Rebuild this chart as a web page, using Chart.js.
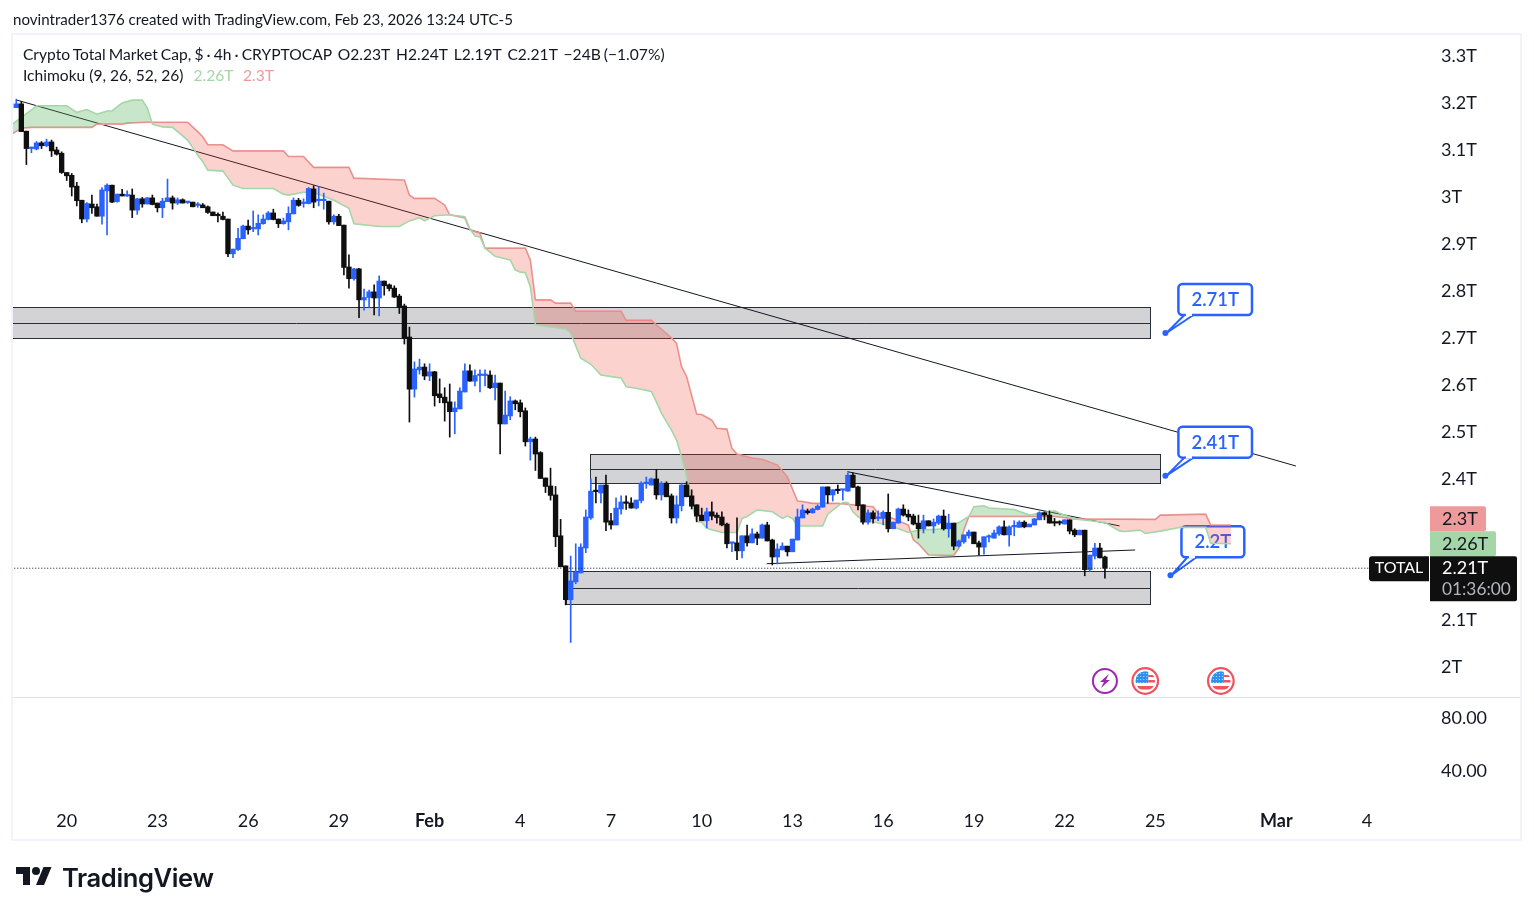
<!DOCTYPE html>
<html>
<head>
<meta charset="utf-8">
<title>Crypto Total Market Cap</title>
<script src="https://cdn.jsdelivr.net/npm/chart.js@4/dist/chart.umd.min.js"></script>
<style>
  html, body { margin: 0; padding: 0; background: #fff; width: 1534px; height: 916px; overflow: hidden; }
  body { font-family: Lato, sans-serif; color: #131722; position: relative; }
  canvas { position: absolute; left: 0; top: 0; }
  #frame { position: absolute; left: 11px; top: 33px; width: 1507px; height: 804px; border: 2px solid #f0f3fa; }
  .txt { position: absolute; white-space: pre; }
  #credit { left: 13px; top: 10px; font-size: 15.1px; }
  #legend1 { left: 23px; top: 45px; font-size: 15.6px; word-spacing: -0.9px; }
  #legend2 { left: 23px; top: 66px; font-size: 15.6px; }
  #legend2 span { margin-left: 2px; }
  #logoText { left: 62px; top: 862px; font-family: Inter, sans-serif; font-weight: 600; font-size: 25.6px; letter-spacing: -0.4px; }
  #logo { position: absolute; left: 15px; top: 863px; width: 38px; height: 28px; }
</style>
</head>
<body>
<canvas id="chart" width="1534" height="916"></canvas>
<div id="frame"></div>
<div class="txt" id="credit">novintrader1376 created with TradingView.com, Feb 23, 2026 13:24 UTC-5</div>
<div class="txt" id="legend1">Crypto Total Market Cap, $ · 4h · CRYPTOCAP  O2.23T  H2.24T  L2.19T  C2.21T  −24B (−1.07%)</div>
<div class="txt" id="legend2">Ichimoku (9, 26, 52, 26)  <span style="color:#a5d6a7">2.26T</span>  <span style="color:#ef9a9a">2.3T</span></div>
<svg id="logo" viewBox="0 0 36 28"><path fill="#131722" d="M14 22H7V11H0V4h14v18zM28 22h-8l7.5-18h8L28 22z"/><circle fill="#131722" cx="20" cy="8" r="4"/></svg>
<div class="txt" id="logoText">TradingView</div>

<script>
// 4h candles, one value per bar, in trillions of dollars
const candleOpens = [
  3.188,3.196,3.138,3.101,3.100,3.113,3.107,3.115,3.098,3.091,
  3.050,3.044,3.021,2.991,2.951,2.983,2.977,2.957,3.011,3.023,
  2.988,3.004,3.000,3.002,2.970,2.994,2.983,2.996,2.985,2.975,
  2.988,2.996,2.985,2.992,2.986,2.987,2.980,2.981,2.977,2.966,
  2.960,2.957,2.951,2.877,2.886,2.909,2.936,2.930,2.930,2.941,
  2.950,2.964,2.951,2.941,2.945,2.962,2.991,2.984,2.984,3.015,
  2.990,2.990,2.989,2.945,2.957,2.938,2.849,2.824,2.845,2.779,
  2.784,2.796,2.783,2.819,2.811,2.804,2.787,2.766,2.700,2.589,
  2.630,2.636,2.617,2.626,2.579,2.572,2.562,2.541,2.547,2.583,
  2.628,2.606,2.618,2.618,2.619,2.592,2.602,2.515,2.532,2.564,
  2.560,2.543,2.477,2.483,2.454,2.400,2.383,2.364,2.277,2.213,
  2.141,2.179,2.198,2.251,2.315,2.372,2.368,2.385,2.309,2.300,
  2.334,2.349,2.347,2.336,2.352,2.388,2.385,2.398,2.364,2.389,
  2.362,2.315,2.341,2.385,2.362,2.343,2.321,2.309,2.328,2.321,
  2.317,2.302,2.261,2.262,2.245,2.277,2.262,2.281,2.272,2.300,
  2.268,2.232,2.247,2.255,2.243,2.268,2.315,2.330,2.326,2.333,
  2.338,2.381,2.364,2.375,2.374,2.372,2.406,2.381,2.343,2.306,
  2.326,2.314,2.314,2.327,2.292,2.304,2.334,2.323,2.319,2.304,
  2.292,2.309,2.298,2.304,2.319,2.292,2.304,2.255,2.264,2.277,
  2.285,2.262,2.253,2.274,2.272,2.281,2.296,2.279,2.296,2.295,
  2.306,2.296,2.300,2.311,2.326,2.321,2.306,2.305,2.302,2.311,
  2.289,2.279,2.289,2.205,2.234,2.251,2.232
];
const candleCloses = [
  3.196,3.137,3.101,3.104,3.113,3.107,3.115,3.096,3.089,3.050,
  3.043,3.019,2.990,2.951,2.984,2.975,2.957,3.013,3.023,2.987,
  3.004,3.000,3.001,2.970,2.994,2.983,2.996,2.982,2.975,2.989,
  2.996,2.985,2.992,2.985,2.987,2.977,2.982,2.975,2.965,2.958,
  2.958,2.950,2.877,2.887,2.910,2.936,2.928,2.933,2.942,2.951,
  2.964,2.950,2.941,2.947,2.963,2.991,2.980,2.985,3.016,2.987,
  2.991,2.991,2.945,2.957,2.937,2.848,2.824,2.845,2.779,2.784,
  2.796,2.783,2.819,2.809,2.803,2.785,2.763,2.697,2.589,2.632,
  2.636,2.617,2.626,2.575,2.571,2.560,2.541,2.549,2.585,2.628,
  2.606,2.618,2.619,2.619,2.592,2.602,2.515,2.534,2.564,2.558,
  2.541,2.477,2.483,2.451,2.399,2.382,2.363,2.275,2.211,2.141,
  2.181,2.200,2.253,2.317,2.372,2.371,2.385,2.306,2.300,2.336,
  2.349,2.346,2.336,2.353,2.389,2.389,2.398,2.364,2.389,2.360,
  2.315,2.343,2.385,2.360,2.340,2.319,2.309,2.328,2.319,2.316,
  2.300,2.260,2.263,2.245,2.277,2.262,2.281,2.272,2.300,2.266,
  2.232,2.249,2.255,2.243,2.270,2.317,2.332,2.326,2.334,2.340,
  2.381,2.364,2.375,2.373,2.376,2.406,2.380,2.341,2.306,2.326,
  2.313,2.316,2.327,2.292,2.306,2.334,2.321,2.317,2.302,2.292,
  2.309,2.298,2.306,2.319,2.292,2.304,2.255,2.266,2.279,2.285,
  2.260,2.253,2.275,2.276,2.283,2.296,2.279,2.296,2.298,2.306,
  2.296,2.302,2.313,2.326,2.321,2.304,2.304,2.304,2.311,2.287,
  2.279,2.289,2.205,2.236,2.251,2.230,2.208
];
const candleHighs = [
  3.206,3.201,3.138,3.104,3.116,3.116,3.121,3.119,3.104,3.094,
  3.050,3.048,3.029,2.991,2.986,3.002,2.983,3.018,3.026,3.023,
  3.004,3.014,3.011,3.015,2.995,2.997,2.997,3.002,2.985,2.995,
  3.036,3.000,2.996,2.994,2.989,2.987,2.986,2.984,2.979,2.966,
  2.964,2.966,2.951,2.887,2.931,2.938,2.949,2.968,2.960,2.960,
  2.967,2.972,2.951,2.953,2.977,2.996,2.995,2.994,3.018,3.022,
  3.020,3.006,2.989,2.960,2.961,2.938,2.875,2.846,2.846,2.802,
  2.800,2.811,2.830,2.819,2.813,2.809,2.791,2.770,2.721,2.647,
  2.653,2.643,2.643,2.627,2.611,2.592,2.600,2.562,2.592,2.643,
  2.641,2.630,2.630,2.630,2.628,2.619,2.602,2.585,2.573,2.566,
  2.566,2.549,2.487,2.487,2.456,2.400,2.421,2.382,2.312,2.213,
  2.234,2.260,2.260,2.332,2.398,2.402,2.385,2.406,2.325,2.358,
  2.362,2.362,2.358,2.353,2.392,2.402,2.400,2.418,2.392,2.392,
  2.366,2.362,2.389,2.392,2.375,2.343,2.336,2.336,2.349,2.326,
  2.328,2.304,2.263,2.315,2.277,2.300,2.292,2.285,2.302,2.306,
  2.270,2.260,2.262,2.255,2.270,2.334,2.343,2.334,2.336,2.343,
  2.381,2.381,2.375,2.385,2.376,2.411,2.411,2.383,2.343,2.332,
  2.330,2.330,2.330,2.366,2.306,2.336,2.343,2.332,2.323,2.321,
  2.321,2.309,2.313,2.321,2.332,2.323,2.304,2.268,2.279,2.289,
  2.285,2.266,2.275,2.279,2.289,2.298,2.309,2.298,2.309,2.309,
  2.309,2.302,2.314,2.328,2.328,2.330,2.314,2.309,2.311,2.311,
  2.292,2.289,2.289,2.236,2.261,2.261,2.234
];
const candleLows = [
  3.188,3.137,3.067,3.092,3.098,3.101,3.105,3.084,3.087,3.048,
  3.033,3.000,2.979,2.943,2.945,2.963,2.957,2.940,2.917,2.986,
  2.987,3.000,2.999,2.954,2.961,2.976,2.983,2.981,2.966,2.954,
  2.988,2.972,2.982,2.985,2.984,2.977,2.976,2.975,2.963,2.958,
  2.945,2.949,2.871,2.869,2.884,2.909,2.919,2.924,2.917,2.940,
  2.949,2.949,2.933,2.940,2.928,2.962,2.978,2.976,2.983,2.975,
  2.979,2.972,2.940,2.940,2.937,2.832,2.804,2.821,2.741,2.757,
  2.762,2.747,2.745,2.789,2.798,2.784,2.750,2.685,2.519,2.572,
  2.621,2.609,2.607,2.553,2.560,2.521,2.487,2.494,2.547,2.583,
  2.606,2.596,2.583,2.596,2.590,2.566,2.451,2.515,2.524,2.545,
  2.530,2.468,2.438,2.416,2.399,2.369,2.353,2.254,2.211,2.130,
  2.050,2.175,2.198,2.241,2.312,2.347,2.347,2.288,2.291,2.300,
  2.323,2.333,2.336,2.334,2.347,2.378,2.385,2.355,2.353,2.360,
  2.304,2.304,2.330,2.360,2.334,2.307,2.309,2.294,2.311,2.304,
  2.298,2.251,2.243,2.226,2.230,2.255,2.262,2.258,2.272,2.266,
  2.215,2.217,2.247,2.234,2.243,2.268,2.315,2.323,2.325,2.332,
  2.338,2.346,2.351,2.367,2.353,2.372,2.380,2.332,2.302,2.302,
  2.304,2.309,2.300,2.285,2.292,2.304,2.319,2.309,2.300,2.272,
  2.283,2.298,2.283,2.301,2.289,2.274,2.247,2.253,2.261,2.272,
  2.260,2.236,2.238,2.264,2.272,2.278,2.279,2.255,2.277,2.295,
  2.294,2.296,2.300,2.311,2.311,2.304,2.298,2.300,2.302,2.281,
  2.275,2.279,2.192,2.201,2.228,2.230,2.187
];

// Ichimoku leading spans, read at the bars where their slope changes
const spanABars = [-1,1,3,4,10,12,14,16,18,19,21,23,25,26,27,29,31,34,36,37,38,41,43,45,51,53,54,57,59,63,66,67,72,76,78,80,81,83,86,89,90,91,92,93,95,98,99,100,101,102,103,109,110,112,114,116,119,120,121,123,126,127,128,130,131,132,133,134,135,136,137,140,143,144,145,147,150,152,153,154,155,160,161,163,164,165,166,167,168,172,174,177,179,185,186,187,189,190,192,193,198,201,202,206,207,210,214,216,219,220,223,224,227,231,236,237,241];
const spanAValues = [3.151,3.167,3.183,3.192,3.192,3.178,3.184,3.174,3.181,3.181,3.198,3.204,3.204,3.187,3.153,3.147,3.146,3.119,3.087,3.073,3.055,3.053,3.023,3.016,3.016,3.004,3.002,3.008,3.008,2.991,2.974,2.941,2.935,2.935,2.947,2.954,2.947,2.958,2.960,2.956,2.930,2.915,2.913,2.889,2.872,2.864,2.843,2.838,2.837,2.807,2.726,2.717,2.708,2.655,2.642,2.619,2.614,2.613,2.594,2.591,2.584,2.562,2.538,2.502,2.481,2.445,2.403,2.346,2.307,2.306,2.293,2.284,2.284,2.314,2.318,2.332,2.328,2.314,2.319,2.314,2.298,2.298,2.323,2.340,2.348,2.348,2.328,2.318,2.311,2.302,2.296,2.284,2.289,2.292,2.302,2.305,2.318,2.339,2.341,2.336,2.333,2.321,2.323,2.330,2.325,2.313,2.308,2.305,2.287,2.286,2.289,2.282,2.287,2.295,2.295,2.261,2.260];
const spanBBars = [-1,1,3,12,15,16,21,22,26,34,36,37,38,41,43,53,54,57,59,66,67,77,78,79,83,85,86,89,90,92,93,101,102,103,106,107,110,111,120,121,126,127,128,130,131,132,133,135,136,138,139,141,142,143,146,148,151,153,155,156,158,163,168,170,171,174,177,178,179,181,186,187,188,189,206,210,226,227,236,237,241];
const spanBValues = [3.131,3.144,3.146,3.146,3.146,3.153,3.153,3.155,3.157,3.157,3.137,3.126,3.109,3.109,3.096,3.096,3.084,3.084,3.061,3.061,3.038,3.034,3.002,2.995,2.995,2.981,2.960,2.953,2.928,2.921,2.889,2.889,2.864,2.779,2.779,2.772,2.772,2.755,2.755,2.736,2.736,2.726,2.717,2.698,2.687,2.637,2.616,2.536,2.535,2.523,2.506,2.504,2.463,2.451,2.4425,2.440,2.428,2.403,2.351,2.350,2.346,2.346,2.341,2.339,2.325,2.314,2.300,2.268,2.260,2.236,2.235,2.250,2.289,2.318,2.318,2.313,2.312,2.321,2.323,2.300,2.300];

// hand drawn zones: start bar, end bar, top, middle, bottom price
const zoneStarts = [-1, 113.8, 109];
const zoneEnds = [225, 227, 225];
const zoneTops = [2.763, 2.450, 2.202];
const zoneMids = [2.729, 2.4185, 2.165];
const zoneBottoms = [2.697, 2.389, 2.131];

// hand drawn trend lines
const trendBars = [[0.14, 253.9], [164.9, 218.9], [148.9, 222]];
const trendPrices = [[3.204, 2.4255], [2.4134, 2.298], [2.2176, 2.2468]];

// price callouts
const calloutLabels = ['2.71T', '2.41T', '2.2T'];
const calloutBars = [228, 228, 229];
const calloutPrices = [2.7085, 2.405, 2.193];

// calendar markers under the candles
const eventBars = [216, 224, 239];
const eventKinds = ['bolt', 'flag', 'flag'];
const eventPrice = 1.968;

const priceTicks = [2, 2.1, 2.4, 2.5, 2.6, 2.7, 2.8, 2.9, 3, 3.1, 3.2, 3.3];
const oscTicks = [40, 80];
const dateTickBars = [10, 28, 46, 64, 82, 100, 118, 136, 154, 172, 190, 208, 226, 250, 268];
const dateTickLabels = ['20', '23', '26', '29', 'Feb', '4', '7', '10', '13', '16', '19', '22', '25', 'Mar', '4'];

const lastClose = candleCloses[candleCloses.length - 1];
const lastSpanA = spanAValues[spanAValues.length - 1];
const lastSpanB = spanBValues[spanBValues.length - 1];

const FONT = 'Lato, sans-serif';
const INK = '#131722';
const BLUE = '#2962ff';
const BLACK = '#0f0f0f';

const candleColors = candleOpens.map((o, i) => candleCloses[i] >= o ? BLUE : BLACK);

function roundedBox(ctx, x, y, w, h, r) {
    ctx.beginPath();
    ctx.roundRect(x, y, w, h, r);
}

function drawCallouts(chart) {
    const { ctx, scales } = chart;
    ctx.save();
    ctx.font = '600 18.5px ' + FONT;
    ctx.lineJoin = 'round';
    calloutLabels.forEach((label, i) => {
        const tipX = scales.x.getPixelForValue(calloutBars[i]);
        const tipY = scales.y.getPixelForValue(calloutPrices[i]);
        const w = ctx.measureText(label).width + 26;
        const boxX = tipX + (label.length > 4 ? 13 : 11);
        const boxY = tipY - 49;
        const h = 31;
        ctx.strokeStyle = BLUE;
        ctx.lineWidth = 2.5;
        ctx.fillStyle = '#fff';
        roundedBox(ctx, boxX, boxY, w, h, 4);
        ctx.fill();
        ctx.stroke();
        // pointer down to the anchor
        ctx.lineWidth = 2;
        ctx.beginPath();
        ctx.moveTo(boxX + 15, boxY + h);
        ctx.lineTo(tipX + 1, tipY);
        ctx.lineTo(boxX + 6, boxY + h);
        ctx.closePath();
        ctx.fill();
        ctx.stroke();
        ctx.fillStyle = '#fff';
        ctx.fillRect(boxX + 7.5, boxY + h - 2, 6, 3);
        ctx.fillStyle = BLUE;
        ctx.beginPath();
        ctx.arc(tipX, tipY, 3, 0, Math.PI * 2);
        ctx.fill();
        ctx.textAlign = 'center';
        ctx.textBaseline = 'middle';
        ctx.fillText(label, boxX + w / 2, boxY + h / 2 + 0.5);
    });
    ctx.restore();
}

function drawFlag(ctx, x, y) {
    ctx.save();
    ctx.fillStyle = '#fff';
    ctx.strokeStyle = '#f0535e';
    ctx.lineWidth = 2.2;
    ctx.beginPath();
    ctx.arc(x, y, 12.8, 0, Math.PI * 2);
    ctx.fill();
    ctx.stroke();
    ctx.beginPath();
    ctx.arc(x, y, 9.8, 0, Math.PI * 2);
    ctx.clip();
    ctx.fillStyle = '#f0535e';
    ctx.fillRect(x + 3, y - 6, 7, 2);
    ctx.fillRect(x + 3, y - 1, 7, 2.5);
    ctx.fillRect(x - 10, y + 5, 20, 3.5);
    ctx.fillStyle = '#2d8fee';
    ctx.fillRect(x - 10, y - 10, 13, 12);
    ctx.fillStyle = 'rgba(255,255,255,0.7)';
    for (let gx = x - 8; gx < x + 3; gx += 3) {
        for (let gy = y - 8; gy < y + 2; gy += 3) ctx.fillRect(gx, gy, 1, 1);
    }
    ctx.restore();
}

function drawBolt(ctx, x, y) {
    ctx.save();
    ctx.fillStyle = '#fff';
    ctx.strokeStyle = '#9c27b0';
    ctx.lineWidth = 2;
    ctx.beginPath();
    ctx.arc(x, y, 12, 0, Math.PI * 2);
    ctx.fill();
    ctx.stroke();
    ctx.fillStyle = '#9c27b0';
    ctx.beginPath();
    ctx.moveTo(x + 4, y - 7);
    ctx.lineTo(x - 5, y + 1);
    ctx.lineTo(x - 1, y + 1);
    ctx.lineTo(x - 4, y + 7);
    ctx.lineTo(x + 5, y - 1);
    ctx.lineTo(x + 1, y - 1);
    ctx.closePath();
    ctx.fill();
    ctx.restore();
}

function drawPriceTags(chart) {
    const { ctx, scales, chartArea } = chart;
    const left = chartArea.right;
    const closeY = scales.y.getPixelForValue(lastClose);
    ctx.save();
    ctx.textBaseline = 'middle';
    ctx.textAlign = 'left';
    ctx.font = '18px ' + FONT;
    const closeTop = closeY - 12;

    ctx.fillStyle = '#a5d6a7';
    roundedBox(ctx, left, closeTop - 25, 66, 25, [0, 2, 2, 0]);
    ctx.fill();
    ctx.fillStyle = INK;
    ctx.fillText(lastSpanA.toFixed(2) + 'T', left + 12, closeTop - 12);

    ctx.fillStyle = '#ef9a9a';
    roundedBox(ctx, left, closeTop - 50, 56, 25, [0, 2, 2, 0]);
    ctx.fill();
    ctx.fillStyle = INK;
    ctx.fillText(lastSpanB.toFixed(1) + 'T', left + 12, closeTop - 37);

    ctx.fillStyle = BLACK;
    roundedBox(ctx, left, closeTop, 87, 45, [0, 2, 2, 0]);
    ctx.fill();
    ctx.fillStyle = '#fff';
    ctx.fillText(lastClose.toFixed(2) + 'T', left + 12, closeTop + 12);
    ctx.fillStyle = '#b2b5be';
    ctx.font = '17.3px ' + FONT;
    ctx.fillText('01:36:00', left + 12, closeTop + 33);

    ctx.fillStyle = BLACK;
    roundedBox(ctx, left - 61, closeTop, 60, 25, [3, 0, 0, 3]);
    ctx.fill();
    ctx.fillStyle = '#fff';
    ctx.font = '16px ' + FONT;
    ctx.textAlign = 'center';
    ctx.fillText('TOTAL', left - 31, closeTop + 12);
    ctx.restore();
}

const drawingsPlugin = {
    id: 'drawings',
    beforeDatasetsDraw(chart) {
        const { ctx, scales, chartArea } = chart;
        const snap = v => Math.round(v) + 0.5;
        ctx.save();
        ctx.beginPath();
        ctx.rect(chartArea.left, chartArea.top, chartArea.width, chartArea.height);
        ctx.clip();
        zoneStarts.forEach((start, i) => {
            const x0 = snap(scales.x.getPixelForValue(start));
            const x1 = snap(scales.x.getPixelForValue(zoneEnds[i]));
            const yTop = snap(scales.y.getPixelForValue(zoneTops[i]));
            const yBot = snap(scales.y.getPixelForValue(zoneBottoms[i]));
            const yMid = snap(scales.y.getPixelForValue(zoneMids[i]));
            ctx.fillStyle = '#d3d3d5';
            ctx.fillRect(x0, yTop, x1 - x0, yBot - yTop);
            ctx.strokeStyle = '#2a2e39';
            ctx.lineWidth = 1;
            ctx.strokeRect(x0, yTop, x1 - x0, yBot - yTop);
            ctx.beginPath();
            ctx.moveTo(x0, yMid);
            ctx.lineTo(x1, yMid);
            ctx.stroke();
        });
        ctx.restore();
        // pane separator
        ctx.save();
        ctx.strokeStyle = '#e0e3eb';
        ctx.lineWidth = 1;
        ctx.beginPath();
        ctx.moveTo(chartArea.left, scales.oscillator.top + 0.5);
        ctx.lineTo(chartArea.right + 91, scales.oscillator.top + 0.5);
        ctx.stroke();
        ctx.restore();
    },
    afterDatasetDraw(chart, args) {
        // callouts sit over the trend lines but under the cloud and candles
        if (chart.data.datasets[args.index].label === 'trend 0') drawCallouts(chart);
    },
    afterDatasetsDraw(chart) {
        const { ctx, scales } = chart;
        const y = scales.y.getPixelForValue(eventPrice);
        eventBars.forEach((bar, i) => {
            const x = scales.x.getPixelForValue(bar);
            if (eventKinds[i] === 'flag') drawFlag(ctx, x, y); else drawBolt(ctx, x, y);
        });
    },
    afterDraw: drawPriceTags
};

const bars = candleOpens.map((_, i) => i);

new Chart(document.getElementById('chart').getContext('2d'), {
    type: 'bar',
    plugins: [drawingsPlugin],
    data: {
        datasets: [
            {
                label: 'close',
                type: 'line',
                data: [{ x: -1, y: lastClose }, { x: 272, y: lastClose }],
                borderColor: INK,
                borderWidth: 1,
                borderDash: [1, 2],
                pointRadius: 0,
                order: 0
            },
            {
                label: 'bodies',
                data: bars.map(i => ({ x: i, y: [candleOpens[i], candleCloses[i]] })),
                backgroundColor: candleColors,
                barThickness: 4.7,
                minBarLength: 1.5,
                grouped: false,
                order: 1
            },
            {
                label: 'wicks',
                data: bars.map(i => ({ x: i, y: [candleLows[i], candleHighs[i]] })),
                backgroundColor: candleColors,
                barThickness: 1,
                grouped: false,
                order: 2
            },
            {
                label: 'span A',
                type: 'line',
                data: spanABars.map((x, i) => ({ x, y: spanAValues[i] })),
                borderColor: '#a5d6a7',
                borderWidth: 1.6,
                pointRadius: 0,
                fill: { target: 4, above: 'rgba(76,175,80,0.31)', below: 'rgba(244,67,54,0.24)' },
                order: 5
            },
            {
                label: 'span B',
                type: 'line',
                data: spanBBars.map((x, i) => ({ x, y: spanBValues[i] })),
                borderColor: '#ef9a9a',
                borderWidth: 1.6,
                pointRadius: 0,
                order: 5
            },
            ...trendBars.map((pair, t) => ({
                label: 'trend ' + t,
                type: 'line',
                data: pair.map((x, i) => ({ x, y: trendPrices[t][i] })),
                borderColor: INK,
                borderWidth: 1,
                pointRadius: 0,
                order: 10
            }))
        ]
    },
    options: {
        responsive: false,
        animation: false,
        layout: { padding: { left: 13, top: 34, right: 0, bottom: 76 } },
        plugins: { legend: { display: false }, tooltip: { enabled: false } },
        events: [],
        scales: {
            x: {
                type: 'linear',
                offset: false,
                min: -0.655,
                max: 280.5,
                grid: { display: false, offset: false },
                border: { display: false },
                afterFit(scale) { scale.height = 40; },
                afterBuildTicks(scale) { scale.ticks = dateTickBars.map(value => ({ value })); },
                ticks: {
                    autoSkip: false,
                    maxRotation: 0,
                    padding: 2,
                    color: INK,
                    font: ctx => {
                        const label = dateTickLabels[ctx.index];
                        return { family: FONT, size: 18, weight: (label === 'Feb' || label === 'Mar') ? '700' : '400' };
                    },
                    callback: (value, index) => dateTickLabels[index]
                }
            },
            y: {
                type: 'linear',
                position: 'right',
                stack: 'panes',
                stackWeight: 663,
                min: 1.934,
                max: 3.3447,
                grid: { display: false },
                border: { display: false },
                afterFit(scale) { scale.width = 104; },
                afterBuildTicks(scale) { scale.ticks = priceTicks.map(value => ({ value })); },
                ticks: {
                    autoSkip: false,
                    padding: 3,
                    labelOffset: 1,
                    color: INK,
                    font: { family: FONT, size: 18 },
                    callback: value => value + 'T'
                }
            },
            oscillator: {
                type: 'linear',
                position: 'right',
                stack: 'panes',
                stackWeight: 103,
                min: 17.4,
                max: 95.1,
                grid: { display: false },
                border: { display: false },
                afterFit(scale) { scale.width = 104; },
                afterBuildTicks(scale) { scale.ticks = oscTicks.map(value => ({ value })); },
                ticks: {
                    autoSkip: false,
                    padding: 3,
                    labelOffset: 1,
                    color: INK,
                    font: { family: FONT, size: 18 },
                    callback: value => value.toFixed(2)
                }
            }
        }
    }
});
</script>
</body>
</html>
